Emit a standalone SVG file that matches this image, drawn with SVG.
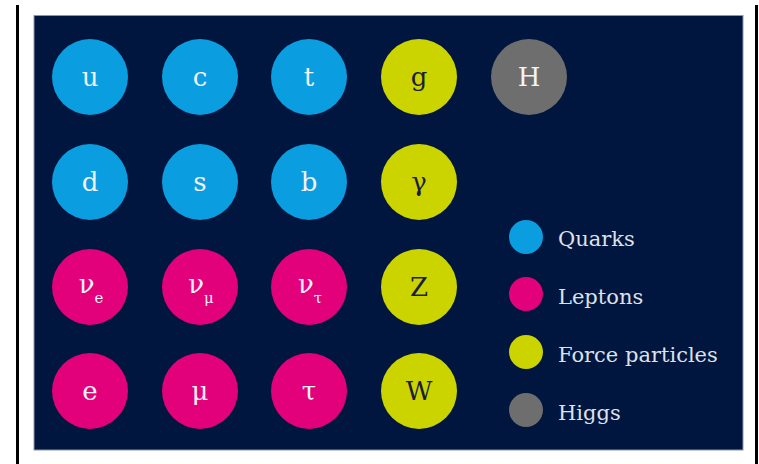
<svg xmlns="http://www.w3.org/2000/svg" width="759" height="464" viewBox="0 0 759 464">
<style>
.q{fill:#0a9ddf}.l{fill:#e2017b}.f{fill:#ccd400}.h{fill:#6e6e6e}
.t{font-family:"DejaVu Serif","Liberation Serif",serif;font-size:26px;fill:#f2f2f7;text-anchor:middle}
.td{fill:#1b1d3c}
.sub{font-size:15px}
.lg{font-family:"DejaVu Serif","Liberation Serif",serif;font-size:21px;fill:#dfe0e8}
</style>
<rect width="759" height="464" fill="#ffffff"/>
<rect x="16" y="5" width="3" height="459" fill="#000"/>
<rect x="755" y="5" width="3" height="459" fill="#000"/>
<rect id="panel" x="34" y="15.5" width="709" height="434.5" fill="#00163f" stroke="#8a96ad" stroke-width="1"/>

<g id="u"><circle class="q" cx="90" cy="77" r="38"/><text class="t" x="90" y="86">u</text></g>
<g id="c"><circle class="q" cx="200" cy="77" r="38"/><text class="t" x="200" y="86">c</text></g>
<g id="t"><circle class="q" cx="309" cy="77" r="38"/><text class="t" x="309" y="86">t</text></g>
<g id="g"><circle class="f" cx="419" cy="77" r="38"/><text class="t td" x="419" y="86">g</text></g>
<g id="H"><circle class="h" cx="529" cy="77" r="38"/><text class="t" x="529" y="86">H</text></g>

<g id="d"><circle class="q" cx="90" cy="182" r="38"/><text class="t" x="90" y="191">d</text></g>
<g id="s"><circle class="q" cx="200" cy="182" r="38"/><text class="t" x="200" y="191">s</text></g>
<g id="b"><circle class="q" cx="309" cy="182" r="38"/><text class="t" x="309" y="191">b</text></g>
<g id="gamma"><circle class="f" cx="419" cy="182" r="38"/><text class="t td" x="419" y="191">γ</text></g>

<g id="nu_e"><circle class="l" cx="90" cy="287" r="38"/><text class="t" x="91" y="293">ν<tspan class="sub" dy="10">e</tspan></text></g>
<g id="nu_mu"><circle class="l" cx="200" cy="287" r="38"/><text class="t" x="201" y="293">ν<tspan class="sub" dy="10">μ</tspan></text></g>
<g id="nu_tau"><circle class="l" cx="309" cy="287" r="38"/><text class="t" x="310" y="293">ν<tspan class="sub" dy="10">τ</tspan></text></g>
<g id="Z"><circle class="f" cx="419" cy="287" r="38"/><text class="t td" x="419" y="296">Z</text></g>

<g id="e"><circle class="l" cx="90" cy="391" r="38"/><text class="t" x="90" y="400">e</text></g>
<g id="mu"><circle class="l" cx="200" cy="391" r="38"/><text class="t" x="200" y="400">μ</text></g>
<g id="tau"><circle class="l" cx="309" cy="391" r="38"/><text class="t" x="309" y="400">τ</text></g>
<g id="W"><circle class="f" cx="419" cy="391" r="38"/><text class="t td" x="419" y="400">W</text></g>

<g id="legend">
<g id="leg-quarks"><circle class="q" cx="526" cy="237" r="17"/><text class="lg" x="558" y="246">Quarks</text></g>
<g id="leg-leptons"><circle class="l" cx="526" cy="294" r="17"/><text class="lg" x="558" y="304">Leptons</text></g>
<g id="leg-force"><circle class="f" cx="526" cy="352" r="17"/><text class="lg" x="558" y="362">Force particles</text></g>
<g id="leg-higgs"><circle class="h" cx="526" cy="410" r="17"/><text class="lg" x="558" y="420">Higgs</text></g>
</g>
</svg>
